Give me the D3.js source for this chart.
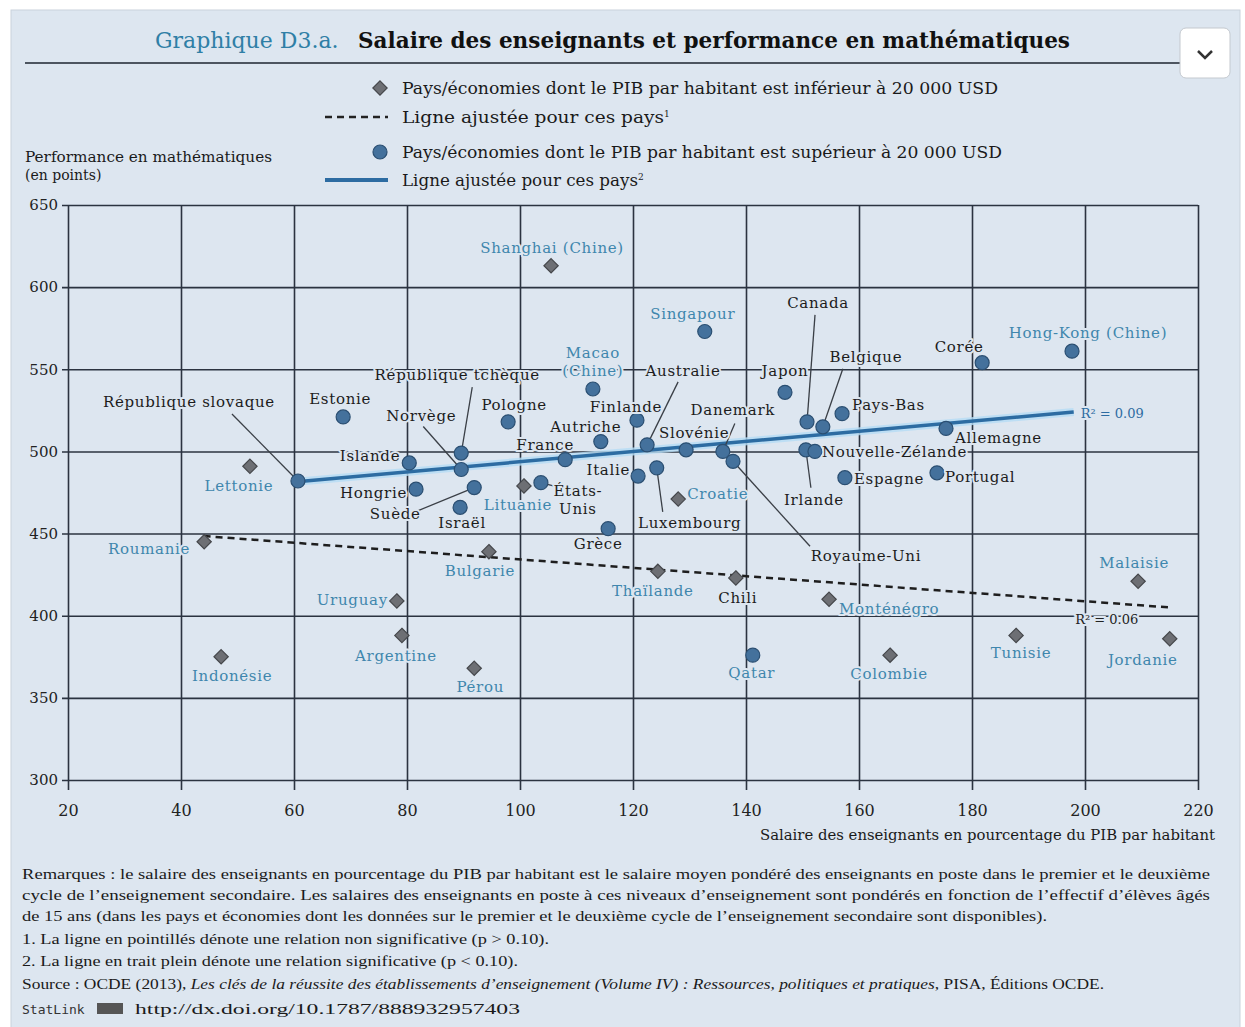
<!DOCTYPE html>
<html>
<head>
<meta charset="utf-8" />
<script src="https://cdn.jsdelivr.net/npm/d3@7"></script>
<style>
  body { margin: 0; background: #fff; }
  svg text { font-family: "DejaVu Serif", "Liberation Serif", serif; }
</style>
</head>
<body>
<svg id="chart" width="1245" height="1027"></svg>
<script>
// --- données ---
var pays = ["Lettonie", "Roumanie", "Uruguay", "Argentine", "Indonésie", "Shanghai (Chine)", "Bulgarie", "Pérou",
  "Thaïlande", "Chili", "Croatie", "Monténégro", "Colombie", "Tunisie", "Malaisie", "Jordanie", "Lituanie",
  "Estonie", "République slovaque", "Islande", "Hongrie", "Suède", "Israël", "Norvège", "République tchèque",
  "Pologne", "France", "Autriche", "Macao (Chine)", "Finlande", "Australie", "Slovénie", "Italie", "Luxembourg",
  "États-Unis", "Grèce", "Danemark", "Royaume-Uni", "Japon", "Canada", "Belgique", "Pays-Bas", "Irlande",
  "Nouvelle-Zélande", "Espagne", "Portugal", "Allemagne", "Corée", "Hong-Kong (Chine)", "Singapour", "Qatar"];
var salaire = [52.2, 44.1, 78.2, 79.1, 47.1, 105.5, 94.5, 91.9,
  124.4, 138.2, 128.0, 154.7, 165.5, 187.8, 209.4, 215.0, 100.7,
  68.7, 60.7, 80.4, 81.6, 91.9, 89.4, 89.6, 89.6,
  97.9, 108.0, 114.3, 112.9, 120.7, 122.5, 129.4, 120.9, 124.2,
  103.7, 115.6, 135.9, 137.7, 146.9, 150.8, 153.6, 157.0, 150.6,
  152.2, 157.5, 173.8, 175.4, 181.8, 197.7, 132.7, 141.2];
var score = [491, 445, 409, 388, 375, 613, 439, 368,
  427, 423, 471, 410, 376, 388, 421, 386, 479,
  521, 482, 493, 477, 478, 466, 489, 499,
  518, 495, 506, 538, 519, 504, 501, 485, 490,
  481, 453, 500, 494, 536, 518, 515, 523, 501,
  500, 484, 487, 514, 554, 561, 573, 376];
// "bas" : PIB/hab. < 20 000 USD (losanges), "haut" : > 20 000 USD (cercles)
var groupe = ["bas", "bas", "bas", "bas", "bas", "bas", "bas", "bas",
  "bas", "bas", "bas", "bas", "bas", "bas", "bas", "bas", "bas",
  "haut", "haut", "haut", "haut", "haut", "haut", "haut", "haut",
  "haut", "haut", "haut", "haut", "haut", "haut", "haut", "haut", "haut",
  "haut", "haut", "haut", "haut", "haut", "haut", "haut", "haut", "haut",
  "haut", "haut", "haut", "haut", "haut", "haut", "haut", "haut"];
// pays partenaires (étiquettes en bleu)
var partenaires = ["Lettonie", "Roumanie", "Uruguay", "Argentine", "Indonésie", "Shanghai (Chine)", "Bulgarie",
  "Pérou", "Thaïlande", "Croatie", "Monténégro", "Colombie", "Tunisie", "Malaisie", "Jordanie", "Lituanie",
  "Macao (Chine)", "Hong-Kong (Chine)", "Singapour", "Qatar"];

// lignes ajustées
var ajusteBasX = [44, 215], ajusteBasY = [448.5, 405];
var ajusteHautX = [60.5, 198], ajusteHautY = [481.5, 524];
var r2Bas = "R² = 0.06", r2Haut = "R² = 0.09";

var xTicks = [20, 40, 60, 80, 100, 120, 140, 160, 180, 200, 220];
var yTicks = [300, 350, 400, 450, 500, 550, 600, 650];

// placement des étiquettes (décalages en px par rapport au point)
var etiquettes = {
  "Shanghai (Chine)": {dx: 1, dy: -13},
  "Singapour": {dx: -12, dy: -13},
  "Macao (Chine)": {dx: 0, dy: -31, lignes: ["Macao", "(Chine)"]},
  "Hong-Kong (Chine)": {dx: 16, dy: -13},
  "Corée": {dx: -23, dy: -11},
  "Canada": {dx: 11, dy: -114, trait: [8, -107]},
  "Belgique": {dx: 43, dy: -65, trait: [20, -58]},
  "Japon": {dx: 0, dy: -16},
  "Australie": {dx: 36, dy: -69, trait: [31, -63]},
  "République tchèque": {dx: -4, dy: -73, trait: [11, -66]},
  "République slovaque": {dx: -109, dy: -74, trait: [-66, -67]},
  "Estonie": {dx: -3, dy: -13},
  "Norvège": {dx: -40, dy: -49, trait: [-38, -43]},
  "Pologne": {dx: 6, dy: -12},
  "Finlande": {dx: -11, dy: -8},
  "Autriche": {dx: -15, dy: -10},
  "Danemark": {dx: 10, dy: -36, trait: [12, -28]},
  "Slovénie": {dx: 8, dy: -12},
  "Pays-Bas": {dx: 10, dy: -4, ancre: "start"},
  "France": {dx: -20, dy: -10},
  "Islande": {dx: -9, dy: -2, ancre: "end"},
  "Allemagne": {dx: 9, dy: 15, ancre: "start"},
  "Nouvelle-Zélande": {dx: 7, dy: 6, ancre: "start"},
  "Italie": {dx: -8, dy: -1, ancre: "end"},
  "Hongrie": {dx: -9, dy: 9, ancre: "end"},
  "États-Unis": {dx: 37, dy: 13, lignes: ["États-", "Unis"], trait: [19, 5]},
  "Croatie": {dx: 9, dy: 0, ancre: "start"},
  "Espagne": {dx: 9, dy: 6, ancre: "start"},
  "Portugal": {dx: 8, dy: 9, ancre: "start"},
  "Irlande": {dx: 8, dy: 55, trait: [5, 38]},
  "Lettonie": {dx: -11, dy: 25},
  "Lituanie": {dx: -6, dy: 24},
  "Suède": {dx: -79, dy: 31, trait: [-56, 23]},
  "Israël": {dx: 2, dy: 21},
  "Luxembourg": {dx: 33, dy: 60, trait: [6, 44]},
  "Grèce": {dx: -10, dy: 20},
  "Royaume-Uni": {dx: 133, dy: 100, trait: [77, 85]},
  "Roumanie": {dx: -14, dy: 12, ancre: "end"},
  "Bulgarie": {dx: -9, dy: 24},
  "Thaïlande": {dx: -5, dy: 25},
  "Chili": {dx: 2, dy: 25},
  "Malaisie": {dx: -4, dy: -13},
  "Uruguay": {dx: -9, dy: 4, ancre: "end"},
  "Monténégro": {dx: 10, dy: 15, ancre: "start"},
  "Argentine": {dx: -6, dy: 26},
  "Tunisie": {dx: 5, dy: 23},
  "Jordanie": {dx: -27, dy: 26},
  "Indonésie": {dx: 11, dy: 24},
  "Qatar": {dx: -1, dy: 23},
  "Colombie": {dx: -1, dy: 24},
  "Pérou": {dx: 6, dy: 24}
};

var fond = "#dde6f0",
    bleuTexte = "#3f86ad",
    bleuPoint = "#44719c",
    grille = "#2b3340";

var svg = d3.select("#chart");

// panneau
svg.append("rect").attr("x", 11).attr("y", 10).attr("width", 1229).attr("height", 1020)
  .attr("fill", fond).attr("stroke", "#c9d2dc");

// titre
var titre = svg.append("text").attr("y", 48).style("font-size", "22px");
titre.append("tspan").attr("x", 155).attr("fill", "#2f7fa6").text("Graphique D3.a.");
titre.append("tspan").attr("x", 358).attr("fill", "#111").attr("font-weight", "bold")
  .attr("textLength", 712).attr("lengthAdjust", "spacingAndGlyphs")
  .text("Salaire des enseignants et performance en mathématiques");
svg.append("line").attr("x1", 25).attr("x2", 1180).attr("y1", 63).attr("y2", 63)
  .attr("stroke", "#4d5560").attr("stroke-width", 2);

// bouton
svg.append("rect").attr("x", 1180).attr("y", 28).attr("width", 50).attr("height", 50).attr("rx", 6)
  .attr("fill", "#fff").attr("stroke", "#c4c9cf");
svg.append("path").attr("d", "M1198,51 L1205,58 L1212,51").attr("fill", "none")
  .attr("stroke", "#333").attr("stroke-width", 2.5);

var x = d3.scaleLinear().domain([20, 220]).range([68, 1198]);
var y = d3.scaleLinear().domain([300, 650]).range([780, 205]);

var diamond = d3.symbol().type(d3.symbolDiamond2).size(130);

// légende
var leg = svg.append("g").style("font-size", "16px").attr("fill", "#1a1a1a");
leg.append("path").attr("d", diamond).attr("transform", "translate(380,88)")
  .attr("fill", "#6d6f74").attr("stroke", "#45474b").attr("stroke-width", 1.2);
leg.append("text").attr("x", 402).attr("y", 94).attr("textLength", 596).attr("lengthAdjust", "spacingAndGlyphs")
  .text("Pays/économies dont le PIB par habitant est inférieur à 20 000 USD");
leg.append("line").attr("x1", 325).attr("x2", 388).attr("y1", 117).attr("y2", 117)
  .attr("stroke", "#222").attr("stroke-width", 2.5).attr("stroke-dasharray", "7,5");
var t1 = leg.append("text").attr("x", 402).attr("y", 123);
t1.append("tspan").attr("textLength", 262).attr("lengthAdjust", "spacingAndGlyphs").text("Ligne ajustée pour ces pays");
t1.append("tspan").attr("dy", -6).style("font-size", "9px").text("1");
leg.append("circle").attr("cx", 380).attr("cy", 152).attr("r", 7)
  .attr("fill", bleuPoint).attr("stroke", "#2b4f72").attr("stroke-width", 1.2);
leg.append("text").attr("x", 402).attr("y", 158).attr("textLength", 600).attr("lengthAdjust", "spacingAndGlyphs")
  .text("Pays/économies dont le PIB par habitant est supérieur à 20 000 USD");
leg.append("line").attr("x1", 325).attr("x2", 388).attr("y1", 180).attr("y2", 180)
  .attr("stroke", "#2d6ca2").attr("stroke-width", 4);
var t2 = leg.append("text").attr("x", 402).attr("y", 186);
t2.append("tspan").attr("textLength", 236).attr("lengthAdjust", "spacingAndGlyphs").text("Ligne ajustée pour ces pays");
t2.append("tspan").attr("dy", -6).style("font-size", "9px").text("2");

// titre axe y
svg.append("text").attr("x", 25).attr("y", 162).style("font-size", "14px").attr("fill", "#1a1a1a")
  .attr("textLength", 247).attr("lengthAdjust", "spacingAndGlyphs")
  .text("Performance en mathématiques");
svg.append("text").attr("x", 25).attr("y", 180).style("font-size", "14px").attr("fill", "#1a1a1a")
  .text("(en points)");

// grille et axes
var gx = svg.append("g").attr("transform", "translate(0,205)")
  .call(d3.axisBottom(x).tickValues(xTicks).tickSize(585).tickPadding(15).tickFormat(d3.format("d")));
var gy = svg.append("g").attr("transform", "translate(1198,0)")
  .call(d3.axisLeft(y).tickValues(yTicks).tickSize(1198 - 62).tickPadding(4).tickFormat(d3.format("d")));
[gx, gy].forEach(function(g) {
  g.select(".domain").remove();
  g.selectAll(".tick line").attr("stroke", grille).attr("stroke-width", 1.6);
  g.selectAll(".tick text").attr("fill", "#222").style("font-size", "15px")
    .style("font-family", "'DejaVu Serif', serif");
});
gx.selectAll(".tick text").style("font-size", "16px");

svg.append("text").attr("x", 1215).attr("y", 840).attr("text-anchor", "end")
  .style("font-size", "14px").attr("fill", "#1a1a1a")
  .attr("textLength", 455).attr("lengthAdjust", "spacingAndGlyphs")
  .text("Salaire des enseignants en pourcentage du PIB par habitant");

// lignes ajustées
var ligne = d3.line().x(function(d) { return x(d[0]); }).y(function(d) { return y(d[1]); });
var basPts = d3.zip(ajusteBasX, ajusteBasY), hautPts = d3.zip(ajusteHautX, ajusteHautY);
svg.append("path").datum(basPts).attr("d", ligne).attr("fill", "none")
  .attr("stroke", "#1e1e1e").attr("stroke-width", 2.5).attr("stroke-dasharray", "7,5");
svg.append("path").datum(hautPts).attr("d", ligne).attr("fill", "none")
  .attr("stroke", "#b5dcf5").attr("stroke-width", 8).attr("stroke-opacity", 0.8);
svg.append("path").datum(hautPts).attr("d", ligne).attr("fill", "none")
  .attr("stroke", "#2d6ca2").attr("stroke-width", 3.5);

// points
var donnees = pays.map(function(p, i) {
  return {nom: p, sx: salaire[i], sy: score[i], g: groupe[i]};
});

// traits de rappel (sous les points)
var gTraits = svg.append("g");
donnees.forEach(function(d) {
  var e = etiquettes[d.nom];
  if (e && e.trait) {
    gTraits.append("line")
      .attr("x1", x(d.sx)).attr("y1", y(d.sy))
      .attr("x2", x(d.sx) + e.trait[0]).attr("y2", y(d.sy) + e.trait[1])
      .attr("stroke", "#3a3f46").attr("stroke-width", 1.3);
  }
});

var gPoints = svg.append("g");
gPoints.selectAll("path.losange").data(donnees.filter(function(d) { return d.g === "bas"; }))
  .enter().append("path").attr("class", "losange").attr("d", diamond)
  .attr("transform", function(d) { return "translate(" + x(d.sx) + "," + y(d.sy) + ")"; })
  .attr("fill", "#6d6f74").attr("stroke", "#45474b").attr("stroke-width", 1.2);
gPoints.selectAll("circle").data(donnees.filter(function(d) { return d.g === "haut"; }))
  .enter().append("circle")
  .attr("cx", function(d) { return x(d.sx); }).attr("cy", function(d) { return y(d.sy); })
  .attr("r", 7).attr("fill", bleuPoint).attr("stroke", "#2b4f72").attr("stroke-width", 1.2);

// étiquettes
var gLab = svg.append("g").style("font-size", "15px").style("letter-spacing", "0.7px");
donnees.forEach(function(d) {
  var e = etiquettes[d.nom] || {dx: 0, dy: -12};
  var lignes = e.lignes || [d.nom];
  var t = gLab.append("text")
    .attr("x", x(d.sx) + e.dx).attr("y", y(d.sy) + e.dy)
    .attr("text-anchor", e.ancre || "middle")
    .attr("fill", partenaires.indexOf(d.nom) >= 0 ? bleuTexte : "#1c1c1c")
    .attr("stroke", fond).attr("stroke-width", 4).attr("paint-order", "stroke")
    .attr("stroke-linejoin", "round");
  lignes.forEach(function(l, i) {
    t.append("tspan").attr("x", x(d.sx) + e.dx).attr("dy", i === 0 ? 0 : 18).text(l);
  });
});

// R²
var last = function(a) { return a[a.length - 1]; };
svg.append("text").attr("x", x(last(ajusteHautX)) + 7).attr("y", y(last(ajusteHautY)) + 6)
  .style("font-size", "13px").attr("fill", "#2d6ca2")
  .attr("stroke", fond).attr("stroke-width", 4).attr("paint-order", "stroke").text(r2Haut);
svg.append("text").attr("x", x(last(ajusteBasX)) - 63).attr("y", y(last(ajusteBasY)) + 16)
  .attr("text-anchor", "middle").style("font-size", "13px").attr("fill", "#222")
  .attr("stroke", fond).attr("stroke-width", 4).attr("paint-order", "stroke").text(r2Bas);

// notes
var notes = [
  {t: ["Remarques : le salaire des enseignants en pourcentage du PIB par habitant est le salaire moyen pondéré des enseignants en poste dans le premier et le deuxième"], y: 879, w: 1188},
  {t: ["cycle de l’enseignement secondaire. Les salaires des enseignants en poste à ces niveaux d’enseignement sont pondérés en fonction de l’effectif d’élèves âgés"], y: 900, w: 1188},
  {t: ["de 15 ans (dans les pays et économies dont les données sur le premier et le deuxième cycle de l’enseignement secondaire sont disponibles)."], y: 921, w: 1025},
  {t: ["1. La ligne en pointillés dénote une relation non significative (p > 0.10)."], y: 944, w: 527},
  {t: ["2. La ligne en trait plein dénote une relation significative (p < 0.10)."], y: 966, w: 496},
  {t: ["Source : OCDE (2013), ", "Les clés de la réussite des établissements d’enseignement (Volume IV) : Ressources, politiques et pratiques", ", PISA, Éditions OCDE."], y: 989, w: 1082}
];
var gNotes = svg.append("g").attr("fill", "#1a1a1a");
notes.forEach(function(n) {
  var t = gNotes.append("text").attr("x", 22).attr("y", n.y)
    .attr("textLength", n.w).attr("lengthAdjust", "spacingAndGlyphs")
    .style("font-family", "'Liberation Serif', serif").style("font-size", "14px");
  n.t.forEach(function(s, i) {
    t.append("tspan").style("font-style", i === 1 ? "italic" : "normal").text(s);
  });
});
svg.append("text").attr("x", 22).attr("y", 1014).style("font-size", "13px")
  .style("font-family", "'DejaVu Sans Mono', monospace").attr("fill", "#333").text("StatLink");
svg.append("rect").attr("x", 97).attr("y", 1003).attr("width", 26).attr("height", 11).attr("fill", "#555");
svg.append("text").attr("x", 135).attr("y", 1014).style("font-size", "14px")
  .style("font-family", "'Liberation Serif', serif").attr("fill", "#1a1a1a")
  .attr("textLength", 385).attr("lengthAdjust", "spacingAndGlyphs")
  .text("http://dx.doi.org/10.1787/888932957403");
</script>
</body>
</html>
